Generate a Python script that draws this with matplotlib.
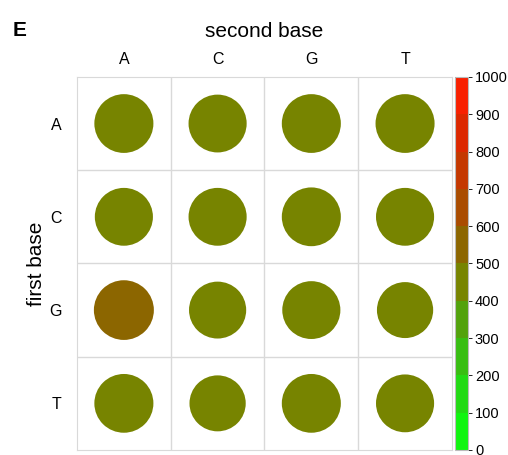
import numpy as np
import matplotlib.pyplot as plt
from matplotlib.colors import ListedColormap, BoundaryNorm
from matplotlib.patches import Circle
from matplotlib.colorbar import ColorbarBase

plt.rcParams['font.family'] = ['Liberation Sans', 'DejaVu Sans']

bases = ['A', 'C', 'G', 'T']
# value per cell (row = first base, column = second base)
values = np.array([
    [450, 450, 450, 450],
    [450, 450, 450, 450],
    [560, 450, 450, 450],
    [450, 450, 450, 450],
])
# circle diameter relative to the cell
diam = np.array([
    [0.63, 0.62, 0.63, 0.63],
    [0.62, 0.62, 0.63, 0.62],
    [0.64, 0.61, 0.62, 0.60],
    [0.63, 0.60, 0.63, 0.62],
])

bar_colors = ['#10f510', '#22da14', '#38be12', '#52a20c', '#778400',
              '#8c6600', '#aa4c00', '#c43800', '#dc2800', '#f82000']
cmap = ListedColormap(bar_colors)
norm = BoundaryNorm(np.arange(0, 1001, 100), cmap.N)

fig = plt.figure(figsize=(5.08, 4.55), dpi=100)
ax = fig.add_axes([0.1516, 0.011, 0.738, 0.820])

for i in range(4):
    for j in range(4):
        ax.add_patch(Circle((j + 0.5, 3.5 - i), diam[i, j] / 2,
                            color=cmap(norm(values[i, j])), lw=0))

ax.set_xlim(0, 4)
ax.set_ylim(0, 4)
for k in range(1, 4):
    ax.axvline(k, color='#d9d9d9', lw=1)
    ax.axhline(k, color='#d9d9d9', lw=1)
for s in ax.spines.values():
    s.set_color('#d9d9d9')
ax.set_xticks(np.arange(4) + 0.5)
ax.set_xticklabels(bases, fontsize=11.5)
ax.set_yticks(3.5 - np.arange(4))
ax.set_yticklabels(bases, fontsize=11.5)
ax.xaxis.tick_top()
ax.xaxis.set_label_position('top')
ax.tick_params(axis='x', length=0, pad=7)
ax.tick_params(axis='y', length=0, pad=11)
ax.set_xlabel('second base', fontsize=15, labelpad=11)
ax.set_ylabel('first base', fontsize=15, labelpad=2)

cax = fig.add_axes([0.8957, 0.011, 0.0256, 0.820])
cb = ColorbarBase(cax, cmap=cmap, norm=norm, ticks=np.arange(0, 1001, 100))
cb.outline.set_edgecolor('#bbbbbb')
cb.outline.set_linewidth(0.8)
cax.tick_params(labelsize=10.5, length=3, width=0.6, pad=2)

fig.text(0.025, 0.92, 'E', fontsize=15, fontweight='bold')

fig.savefig('out.png', dpi=100)
